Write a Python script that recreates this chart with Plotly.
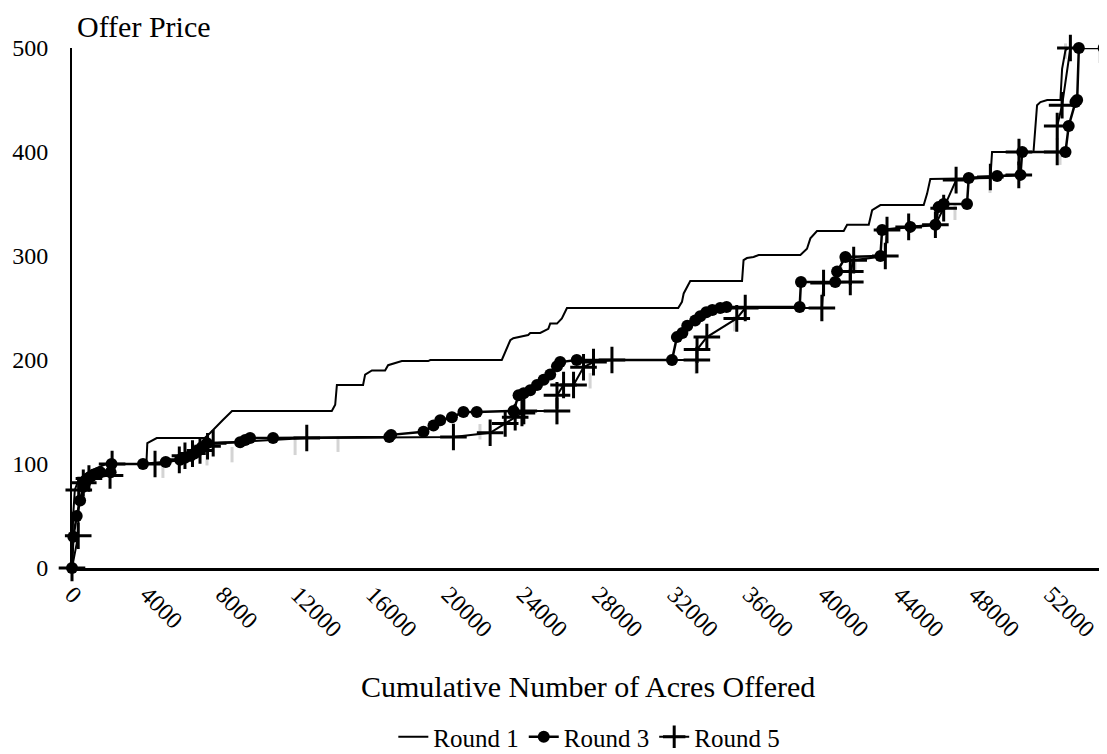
import plotly.graph_objects as go

# ---------------- data ----------------
r1_x = [0, 60, 150, 350, 700, 1200, 1800, 3950, 4000, 4500,
        7050, 7350, 8000, 8500, 13800, 13980, 14070, 15460, 15570, 15930,
        16630, 16790, 17520, 18920, 19030, 22830, 23280, 23440, 24230, 24340,
        24870, 25300, 25400, 25760, 26020, 26290, 32200, 32400, 32490, 32840,
        35590, 35670, 35850, 36200, 36470, 38690, 39040, 39220, 39570, 40990,
        41170, 42320, 42500, 42940, 45240, 45420, 45590, 48780, 48870, 51070,
        51260, 51440, 51800, 52500, 52590, 52770, 52930, 53100]
r1_y = [0, 50, 75, 85, 90, 95, 100, 100, 120, 125,
        125, 130, 142, 151, 151, 157, 176, 176, 186, 190,
        190, 195, 199, 199, 200, 200, 219, 221, 224, 226,
        226, 230, 235, 235, 240, 250, 250, 256, 264, 276,
        276, 296, 298, 299, 301, 301, 307, 317, 324, 324,
        330, 330, 344, 349, 349, 360, 374, 375, 400, 400,
        445, 448, 450, 450, 480, 498, 500, 500]

r3_x = [0, 70, 250, 430, 600, 700, 850, 1000, 1150, 1350,
        1500, 2050, 2100, 3770, 4980, 5740, 6000, 6300, 6500, 6700,
        6900, 7170, 8930, 9200, 9460, 10680, 16850, 16950, 18670, 19200,
        19560, 20180, 20790, 21500, 23450, 23720, 23990, 24340, 24700, 25050,
        25400, 25760, 25930, 26810, 31870, 32130, 32420, 32680, 33100, 33370,
        33690, 34010, 34430, 34770, 38650, 38720, 40540, 40640, 41080, 42940,
        43030, 44530, 45860, 46030, 46300, 47540, 47630, 49140, 50380, 50470,
        52770, 52940, 53300, 53390, 53480, 54800]
r3_y = [0, 30, 50, 65, 78, 82, 86, 88, 90, 91,
        92, 92, 100, 100, 102, 104, 106, 108, 110, 113,
        116, 120, 121, 123, 125, 125, 126, 128, 131, 137,
        142, 145, 150, 150, 151, 166, 168, 171, 176, 181,
        186, 194, 198, 200, 200, 222, 226, 233, 238, 242,
        246, 248, 250, 251, 251, 275, 275, 285, 299, 300,
        325, 328, 330, 347, 350, 350, 375, 377, 378, 400,
        400, 425, 448, 450, 500, 500]

r5_x = [0, 330, 360, 600, 900, 2020, 2130, 4410, 5700, 6000,
        6400, 6800, 7200, 7500, 12470, 20260, 22210, 23010, 23540, 23900,
        24000, 25760, 25760, 26110, 26640, 27170, 27700, 28680, 33190, 33200,
        33720, 35310, 35760, 39830, 39920, 41340, 41340, 41520, 43200, 43290,
        44440, 45860, 46300, 46960, 48780, 50290, 50300, 52330, 52330, 52590,
        53030]
r5_y = [0, 31, 75, 82, 86, 89, 100, 100, 104, 108,
        110, 113, 117, 120, 125, 126, 130, 139, 145, 149,
        151, 151, 166, 176, 176, 193, 198, 200, 200, 210,
        222, 240, 250, 250, 274, 275, 285, 296, 300, 325,
        328, 330, 346, 373, 376, 378, 400, 400, 425, 445,
        500]

# faint grey tick marks visible beneath the curves
grey_x = [50, 4830, 7170, 8500, 11850, 14130, 21670, 23960, 25750, 27520,
          33150, 35200, 39820, 41600, 46000, 46900, 48760, 52480, 52770, 54600]
grey_y = [-3, 94, 106, 109, 116, 119, 131, 145, 145, 180,
          194, 235, 245, 294, 333, 342, 368, 395, 497, 493]

x_ticks = list(range(0, 52001, 4000))
y_ticks = [0, 100, 200, 300, 400, 500]

FONT = "Liberation Serif"

fig = go.Figure()
fig.add_trace(go.Scatter(x=grey_x, y=grey_y, mode="markers", showlegend=False,
                         hoverinfo="skip",
                         marker=dict(symbol="line-ns", size=11, color="#d4d4d4",
                                     line=dict(width=3, color="#d4d4d4")),
                         cliponaxis=False))
fig.add_trace(go.Scatter(x=r1_x, y=r1_y, mode="lines", name="Round 1",
                         line=dict(color="black", width=2), cliponaxis=False))
fig.add_trace(go.Scatter(x=r3_x, y=r3_y, mode="lines+markers", name="Round 3",
                         line=dict(color="black", width=2.5),
                         marker=dict(symbol="circle", size=12, color="black"),
                         cliponaxis=False))
fig.add_trace(go.Scatter(x=r5_x, y=r5_y, mode="lines+markers", name="Round 5",
                         line=dict(color="black", width=2),
                         marker=dict(symbol="cross-thin", size=19, color="black",
                                     line=dict(width=3, color="black")),
                         cliponaxis=False))

fig.update_layout(
    width=1107, height=754,
    margin=dict(l=64, r=0, t=40, b=194, autoexpand=False),
    plot_bgcolor="white", paper_bgcolor="white",
    font=dict(family=FONT, color="black", size=24),
    showlegend=True,
    legend=dict(orientation="h", x=0.496, xanchor="center", y=-0.325, yanchor="middle",
                font=dict(family=FONT, size=25), itemwidth=30),
    xaxis=dict(range=[0, 55400], tickvals=x_ticks, ticktext=[str(v) for v in x_ticks],
               tickangle=45, tickfont=dict(family=FONT, size=24), automargin=False,
               showline=True, linecolor="black", linewidth=3,
               showgrid=False, zeroline=False, ticks=""),
    yaxis=dict(range=[0, 500], tickvals=y_ticks, tickfont=dict(family=FONT, size=24),
               automargin=False,
               showline=True, linecolor="black", linewidth=2,
               showgrid=False, zeroline=False, ticks="", ticklabelstandoff=17),
    annotations=[
        dict(text="Offer Price", x=0.003, y=1.0769, xref="paper", yref="paper",
             xanchor="left", yanchor="top", showarrow=False,
             font=dict(family=FONT, size=30)),
        dict(text="Cumulative Number of Acres Offered", x=0.495, y=-0.227,
             xref="paper", yref="paper", xanchor="center", yanchor="middle",
             showarrow=False, font=dict(family=FONT, size=30)),
    ],
)

fig.write_html("out.html")
